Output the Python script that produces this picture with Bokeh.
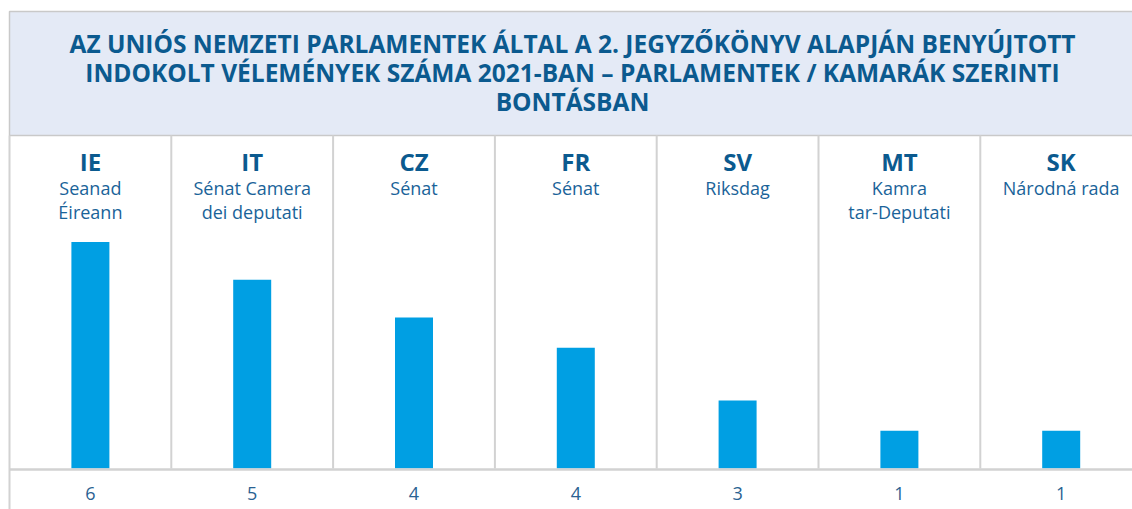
from bokeh.plotting import figure
from bokeh.models import ColumnDataSource, Range1d
from bokeh.core.properties import value
from bokeh.embed import file_html
from bokeh.resources import INLINE

codes = ["IE", "IT", "CZ", "FR", "SV", "MT", "SK"]
chambers = [
    "Seanad\nÉireann",
    "Sénat Camera\ndei deputati",
    "Sénat",
    "Sénat",
    "Riksdag",
    "Kamra\ntar-Deputati",
    "Národná rada",
]
counts = [6, 5, 4, 4, 3, 1, 1]
bar_heights = [6, 5, 4, 3.2, 1.8, 1, 1]
title_lines = [
    "AZ UNIÓS NEMZETI PARLAMENTEK ÁLTAL A 2. JEGYZŐKÖNYV ALAPJÁN BENYÚJTOTT",
    "INDOKOLT VÉLEMÉNYEK SZÁMA 2021-BAN – PARLAMENTEK / KAMARÁK SZERINTI",
    "BONTÁSBAN",
]

W, H = 1132, 509
X0, COLW = 9.0, 161.8
BASE, UNIT = 468.0, 37.75

def xd(px):
    return (px - X0) / COLW

def yd(py):
    return (BASE - py) / UNIT

p = figure(width=W, height=H, output_backend="svg", toolbar_location=None,
           x_range=Range1d(xd(0), xd(W)), y_range=Range1d(yd(H), yd(0)),
           min_border=0)
p.axis.visible = False
p.grid.visible = False
p.outline_line_color = None
p.background_fill_color = "white"
p.border_fill_color = "white"

GRAY = "#D2D2D2"
BLUE_TXT = "#0B5A8F"
font = value("Open Sans")

# title band
p.quad(left=[xd(9)], right=[xd(W + 20)], top=[yd(11)], bottom=[yd(135)],
       fill_color="#E4EAF6", line_color="#C9C9C9", line_width=1.5)

# left frame border
p.segment(x0=[xd(9)], x1=[xd(9)], y0=[yd(135)], y1=[yd(H + 5)],
          line_color=GRAY, line_width=2)

n = len(codes)
idx = list(range(n))
centers = [i + 0.5 for i in idx]

# column dividers
p.segment(x0=idx[1:], x1=idx[1:], y0=[yd(135)] * (n - 1), y1=[0] * (n - 1),
          line_color=GRAY, line_width=2)

src = ColumnDataSource(dict(x=centers, code=codes, chamber=chambers,
                            h=bar_heights, cnt=[str(c) for c in counts]))

p.vbar(x="x", top="h", bottom=0, width=38 / COLW, source=src,
       fill_color="#009FE3", line_color=None)

# baseline
p.segment(x0=[xd(9)], x1=[xd(W + 5)], y0=[yd(469)], y1=[yd(469)],
          line_color=GRAY, line_width=2.5)

# title
title_y = [yd(43), yd(72), yd(101)]
p.text(x=[xd(572)] * 3, y=title_y, text=title_lines, text_font=font,
       text_font_style="bold", text_font_size="24.5px", text_color=BLUE_TXT,
       text_align="center", text_baseline="middle")

# codes
p.text(x="x", y=yd(161), text="code", source=src, text_font=font,
       text_font_style="bold", text_font_size="24px", text_color=BLUE_TXT,
       text_align="center", text_baseline="middle")

# chamber names
p.text(x="x", y=yd(175), text="chamber", source=src, text_font=font,
       text_font_size="18px", text_color="#1A6399", text_align="center",
       text_baseline="top", text_line_height=1.0)

# counts
p.text(x="x", y=yd(493), text="cnt", source=src, text_font=font,
       text_font_size="18px", text_color="#2A6292", text_align="center",
       text_baseline="middle")

open("out.html", "w").write(file_html(p, INLINE))
